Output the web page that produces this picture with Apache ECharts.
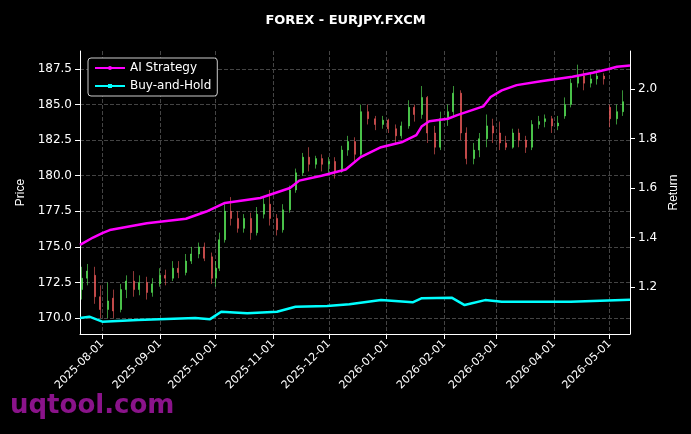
<!DOCTYPE html>
<html><head><meta charset="utf-8">
<script src="https://cdn.jsdelivr.net/npm/echarts@6/dist/echarts.min.js"></script>
<style>html,body{margin:0;background:#000}#c{width:691px;height:434px}</style>
</head><body><div id="c"></div>
<script>
const candleDates = ["2025-07-21","2025-07-24","2025-07-28","2025-07-31","2025-08-04","2025-08-07","2025-08-11","2025-08-14","2025-08-18","2025-08-21","2025-08-25","2025-08-28","2025-09-01","2025-09-04","2025-09-08","2025-09-11","2025-09-15","2025-09-18","2025-09-22","2025-09-25","2025-09-29","2025-10-01","2025-10-03","2025-10-06","2025-10-09","2025-10-13","2025-10-16","2025-10-20","2025-10-23","2025-10-27","2025-10-30","2025-11-03","2025-11-06","2025-11-10","2025-11-13","2025-11-17","2025-11-20","2025-11-24","2025-11-27","2025-12-01","2025-12-04","2025-12-08","2025-12-11","2025-12-15","2025-12-18","2025-12-22","2025-12-26","2025-12-30","2026-01-02","2026-01-06","2026-01-09","2026-01-13","2026-01-16","2026-01-20","2026-01-23","2026-01-27","2026-01-30","2026-02-03","2026-02-06","2026-02-10","2026-02-13","2026-02-17","2026-02-20","2026-02-24","2026-02-27","2026-03-03","2026-03-06","2026-03-10","2026-03-13","2026-03-17","2026-03-20","2026-03-24","2026-03-27","2026-03-31","2026-04-03","2026-04-07","2026-04-10","2026-04-14","2026-04-17","2026-04-21","2026-04-24","2026-04-28","2026-05-01","2026-05-05","2026-05-08"];
const opens  = [172.0,172.8,173.0,171.5,170.6,171.4,170.6,172.0,172.6,172.0,172.5,171.8,172.4,173.0,172.8,173.5,173.2,174.0,174.5,175.0,174.3,172.8,173.5,175.5,177.5,177.0,176.3,177.0,176.0,177.3,178.0,177.0,176.2,177.6,179.0,180.2,181.3,180.8,181.2,180.8,181.0,180.3,181.8,182.4,181.5,184.5,184.0,183.6,183.9,183.3,182.8,183.5,184.8,184.3,185.5,183.0,182.0,184.0,184.5,185.8,183.0,181.2,181.8,182.6,183.5,183.0,182.3,182.0,183.0,182.5,182.0,183.6,183.8,184.0,183.5,184.2,185.0,186.5,187.0,186.5,186.8,187.0,184.8,184.0,184.5];
const closes = [172.8,173.3,171.5,170.6,171.2,170.5,172.0,172.6,172.0,172.5,171.8,172.4,173.0,172.8,173.5,173.2,174.0,174.5,175.0,174.2,172.8,173.5,175.5,177.5,177.0,176.3,177.0,176.0,177.3,178.0,177.0,176.2,177.6,179.0,180.2,181.3,180.8,181.2,180.8,181.0,180.3,181.8,182.4,181.5,184.5,184.0,183.6,183.9,183.3,182.8,183.5,184.8,184.3,185.5,183.0,182.0,184.0,184.5,185.8,183.0,181.2,181.8,182.6,183.5,183.0,182.3,182.0,183.0,182.5,182.0,183.6,183.8,184.0,183.5,183.7,185.0,186.5,187.0,186.5,186.8,187.0,186.8,184.0,184.5,185.2];
const lows   = [171.3,172.3,171.0,170.0,170.0,170.0,170.4,171.4,171.5,171.6,171.3,171.5,172.2,172.3,172.6,172.8,173.0,173.8,174.2,174.0,172.4,172.2,173.3,175.3,176.5,176.0,176.0,175.5,175.8,177.0,176.5,175.8,176.0,177.4,178.8,180.0,180.3,180.5,180.3,180.2,179.8,180.2,181.4,181.0,181.3,183.6,183.2,183.3,183.0,182.2,182.6,183.3,183.8,184.0,182.3,181.5,181.8,183.5,184.2,182.5,180.8,180.8,181.3,182.0,182.3,181.8,181.8,181.9,182.0,181.6,181.8,183.3,183.4,183.0,183.2,184.0,184.8,186.2,186.0,186.2,186.4,186.4,183.4,183.6,184.2];
const highs  = [173.6,173.8,173.6,172.3,172.5,172.0,172.4,173.0,173.3,173.0,172.9,172.8,173.5,173.4,174.0,174.0,174.5,175.0,175.3,175.3,174.6,174.0,176.0,178.0,178.5,177.5,177.3,177.4,177.8,178.5,179.0,177.3,178.0,179.3,180.5,181.6,182.0,181.4,181.5,181.3,181.3,182.1,182.8,182.7,185.0,185.0,184.2,184.2,184.0,183.6,183.8,185.3,185.0,186.3,185.6,183.5,184.5,185.0,186.3,186.0,183.4,182.3,183.0,184.3,184.0,183.8,182.8,183.3,183.3,182.8,183.9,184.2,184.3,184.2,184.2,185.5,186.8,187.8,187.4,187.2,187.3,187.2,185.0,185.0,186.0];

const priceTicks = [170.0,172.5,175.0,177.5,180.0,182.5,185.0,187.5];
const returnTicks = [1.2,1.4,1.6,1.8,2.0];

const aiDates = ["2025-07-20","2025-07-27","2025-08-01","2025-08-05","2025-08-25","2025-09-15","2025-09-26","2025-10-06","2025-10-25","2025-11-10","2025-11-15","2025-11-27","2025-12-10","2025-12-18","2025-12-29","2026-01-09","2026-01-17","2026-01-20","2026-01-24","2026-02-03","2026-02-08","2026-02-14","2026-02-22","2026-02-26","2026-03-04","2026-03-12","2026-03-25","2026-04-11","2026-04-22","2026-04-30","2026-05-05","2026-05-12"];
const aiValues = [1.37,1.40,1.418,1.43,1.458,1.476,1.505,1.54,1.56,1.60,1.63,1.65,1.675,1.725,1.765,1.785,1.814,1.85,1.87,1.88,1.895,1.91,1.93,1.968,1.995,2.016,2.032,2.05,2.066,2.08,2.09,2.095];
const bhDates = ["2025-07-20","2025-07-25","2025-08-01","2025-08-20","2025-09-20","2025-09-28","2025-10-04","2025-10-18","2025-11-03","2025-11-13","2025-11-30","2025-12-12","2025-12-29","2026-01-15","2026-01-20","2026-02-05","2026-02-12","2026-02-23","2026-03-04","2026-04-10","2026-05-12"];
const bhValues = [1.075,1.08,1.06,1.067,1.075,1.07,1.10,1.094,1.10,1.12,1.123,1.13,1.147,1.138,1.155,1.157,1.127,1.147,1.14,1.14,1.148];

const candleData = candleDates.map((d,i)=>[d,opens[i],closes[i],lows[i],highs[i]]);
const chart = echarts.init(document.getElementById('c'));
const axisCol = '#ffffff';
chart.setOption({
  backgroundColor:'#000',
  animation:false,
  title:{text:'FOREX - EURJPY.FXCM',left:'center',top:9,textStyle:{color:'#fff',fontSize:13,fontWeight:'bold',fontFamily:'DejaVu Sans'}},
  legend:{left:88,top:58,orient:'vertical',backgroundColor:'#000',borderColor:'#ccc',borderWidth:1,borderRadius:3,padding:[4,6],itemGap:6,itemWidth:30,itemHeight:5,
    textStyle:{color:'#fff',fontSize:12,fontFamily:'DejaVu Sans'},data:['AI Strategy','Buy-and-Hold']},
  graphic:[{type:'text',left:10,top:393,style:{text:'uqtool.com',fill:'#8a138a',font:'bold 26px DejaVu Sans'}}],
  grid:{left:80,right:61,top:51,bottom:100},
  xAxis:{type:'time',min:'2025-07-20',max:'2026-05-12',splitNumber:10,
    axisLine:{lineStyle:{color:axisCol}},axisTick:{lineStyle:{color:axisCol}},
    axisLabel:{color:'#fff',rotate:45,fontSize:11,fontFamily:'DejaVu Sans',formatter:'{yyyy}-{MM}-{dd}',hideOverlap:false},
    splitLine:{show:true,lineStyle:{color:'#444',type:'dashed'}}},
  yAxis:[
    {type:'value',min:168.88,max:188.76,name:'Price',nameLocation:'middle',nameGap:52,nameTextStyle:{color:'#fff',fontSize:12},
      axisLine:{show:true,lineStyle:{color:axisCol}},axisTick:{show:true,customValues:priceTicks},
      axisLabel:{color:'#fff',fontSize:12,fontFamily:'DejaVu Sans',customValues:priceTicks,formatter:v=>v.toFixed(1)},
      splitLine:{show:true,lineStyle:{color:'#444',type:'dashed'}}},
    {type:'value',min:1.01,max:2.154,name:'Return',nameLocation:'middle',nameGap:38,nameTextStyle:{color:'#fff',fontSize:12},
      axisLine:{show:true,lineStyle:{color:axisCol}},axisTick:{show:true,customValues:returnTicks},
      axisLabel:{color:'#fff',fontSize:12,fontFamily:'DejaVu Sans',customValues:returnTicks,formatter:v=>v.toFixed(1)},
      splitLine:{show:false}}
  ],
  series:[
    {type:'candlestick',name:'Price',data:candleData,barMaxWidth:1.5,
      itemStyle:{color:'#5cf25c',color0:'#f25c5c',borderColor:'#5cf25c',borderColor0:'#f25c5c',borderWidth:0.6}},
    {type:'line',name:'AI Strategy',yAxisIndex:1,data:aiDates.map((d,i)=>[d,aiValues[i]]),color:'#ff00ff',
      lineStyle:{width:2.5},symbol:'circle',symbolSize:5,showSymbol:false},
    {type:'line',name:'Buy-and-Hold',yAxisIndex:1,data:bhDates.map((d,i)=>[d,bhValues[i]]),color:'#00ffff',
      lineStyle:{width:2.5},symbol:'rect',symbolSize:5,showSymbol:false}
  ]
});
</script></body></html>
